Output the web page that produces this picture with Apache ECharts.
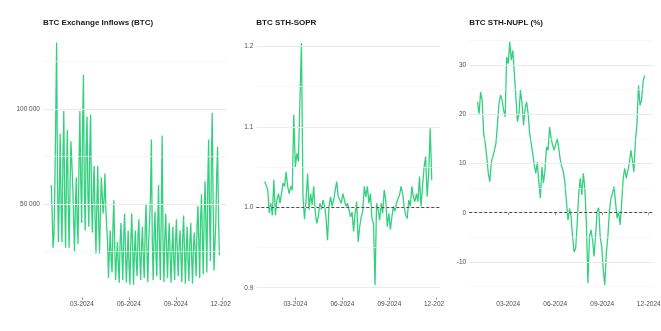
<!DOCTYPE html>
<html>
<head>
<meta charset="utf-8">
<script src="https://cdn.jsdelivr.net/npm/echarts@6/dist/echarts.min.js"></script>
<style>
  html, body { margin: 0; padding: 0; background: #ffffff; }
  .panel { position: absolute; top: 0; height: 331px; overflow: hidden; }
</style>
</head>
<body>
<div id="p1" class="panel" style="left:0;width:231px"></div>
<div id="p2" class="panel" style="left:231px;width:213px"></div>
<div id="p3" class="panel" style="left:444px;width:217px"></div>
<script>
// ---- data ----------------------------------------------------------------
const DAY = 86400000;
const seriesStart = '2024-01-01';

// x-axis ticks
const tickDates = ['2024-03-01', '2024-06-01', '2024-09-01', '2024-12-01'];
const tickLabels = ['03-2024', '06-2024', '09-2024', '12-2024'];

// BTC exchange inflows (BTC), sampled every 1.75 days
const inflowStepDays = 1.75;
const inflowValues = [
  60000, 45000, 27000, 33000, 58000, 95000, 135000, 62000, 30000, 55000,
  87000, 48000, 30000, 72000, 99000, 55000, 27000, 64000, 89000, 50000,
  27000, 58000, 83000, 72000, 60000, 42000, 25000, 48000, 64000, 40000,
  29000, 70000, 99000, 62000, 40000, 88000, 118000, 57000, 36000, 80000,
  96000, 54000, 38000, 78000, 97000, 52000, 35000, 58000, 70000, 43000,
  24000, 50000, 70000, 40000, 24000, 46000, 64000, 55000, 45000, 52000,
  66000, 48000, 38000, 30000, 11000, 25000, 36000, 20000, 14000, 38000,
  52000, 27000, 10000, 22000, 30000, 18000, 8500, 30000, 40000, 24000,
  10000, 32000, 45000, 26000, 8500, 22000, 36000, 17000, 7500, 30000,
  45000, 28000, 7500, 24000, 36000, 20000, 12000, 34000, 42000, 22000,
  10000, 28000, 38000, 21000, 11000, 36000, 50000, 25000, 9000, 30000,
  42000, 55000, 84000, 30000, 10000, 34000, 46000, 24000, 12000, 38000,
  60000, 28000, 10000, 44000, 86000, 30000, 9000, 32000, 45000, 26000,
  11000, 30000, 40000, 22000, 8500, 26000, 38000, 20000, 10000, 30000,
  42000, 24000, 12000, 28000, 36000, 22000, 9000, 32000, 44000, 25000,
  8000, 26000, 38000, 20000, 9500, 30000, 40000, 22000, 8000, 27000,
  35000, 24000, 12000, 38000, 49000, 30000, 11000, 42000, 55000, 33000,
  13000, 45000, 62000, 38000, 14000, 60000, 84000, 45000, 20000, 70000,
  98000, 52000, 15000, 28000, 40000, 65000, 80000, 45000, 23000
];

// BTC STH-SOPR, sampled every 3 days
const soprStepDays = 3;
const soprValues = [
  1.032, 1.030, 1.022, 0.993, 1.005, 0.990, 1.034, 0.990, 1.009, 1.017,
  1.005, 1.017, 1.030, 1.026, 1.044, 1.026, 1.017, 1.026, 1.021, 1.115,
  1.050, 1.067, 1.057, 1.055, 1.204, 1.013, 0.985, 1.009, 1.042, 0.997,
  1.017, 1.003, 1.026, 0.993, 0.980, 0.988, 1.005, 0.997, 1.009, 1.003,
  0.988, 0.959, 1.001, 1.013, 1.001, 1.009, 1.021, 1.032, 1.013, 1.009,
  1.005, 1.017, 1.009, 1.001, 1.005, 0.997, 0.988, 0.994,
  0.970, 0.9925, 1.007, 0.957, 0.976, 0.988, 0.995, 1.026, 1.013, 1.026,
  1.005, 1.017, 0.986, 0.980, 0.9035, 1.005, 0.997, 0.984, 1.005, 0.9925,
  1.0215, 1.009, 0.976, 0.9925, 0.972, 0.988, 1.001, 0.995, 1.005, 1.011,
  1.015, 1.026, 1.017, 1.001, 0.990, 0.986, 1.009, 1.001, 1.026, 1.013,
  1.007, 1.017, 1.007, 1.038, 1.001, 1.026, 1.050, 1.063, 1.013, 1.042,
  1.098, 1.034
];

// BTC STH-NUPL (%), sampled every 3 days
const nuplStepDays = 3;
const nuplValues = [
  22.5, 20.1, 24.5, 22.9, 16.0, 14.2, 11.4, 8.0, 6.3, 10.3,
  11.4, 11.7, 14.1, 18.0, 22.2, 23.9, 22.9, 20.8, 19.5, 31.6,
  30.3, 34.7, 31.0, 33.0, 28.3, 23.5, 18.5, 20.1, 24.9, 22.2,
  17.8, 21.2, 22.5, 20.1, 16.1, 14.1, 12.0, 9.7, 8.0, 10.3,
  6.0, 3.0, 9.3, 6.0, 8.7, 13.4, 12.7, 17.4, 15.1, 13.7,
  12.7, 12.4, 15.1, 13.0, 10.7, 9.3, 8.3,
  6.0, 2.2, -1.5, 0.9, -0.8, -4.9, -8.0, -7.2, -2.2, 3.9,
  7.0, 3.6, 8.0, 4.9, -2.2, -14.3, -4.9, -3.5, -5.5, -8.9,
  -4.5, 0.2, 1.0, -4.9, -6.9, -11.6, -14.7, -8.2, -4.9, 0.2,
  2.9, 3.9, 5.3, 2.2, -1.1, 0.2, -2.5, 1.9, 7.0, 9.0,
  7.0, 7.3, 10.0, 12.7, 10.7, 8.3, 14.7, 18.1, 25.9, 21.8,
  22.9, 26.6, 27.9
];

// y-axis ticks
const inflowTicks = [50000, 100000];
const inflowMinor = [25000, 75000, 125000];
const soprTicks = [0.9, 1.0, 1.1, 1.2];
const soprMinor = [0.95, 1.05, 1.15];
const nuplTicks = [-10, 0, 10, 20, 30];
const nuplMinor = [-15, -5, 5, 15, 25, 35];

// ---- drawing -------------------------------------------------------------
// The x axis is measured in days since seriesStart.
const FONT = '"Liberation Sans", Arial, sans-serif';
const LINE_COLOR = '#33d17f';
const startMs = Date.parse(seriesStart + 'T00:00:00Z');
const tickDays = tickDates.map(d => Math.round((Date.parse(d + 'T00:00:00Z') - startMs) / DAY));
const xMin = -16.35;
const xMax = 343.35;

function toPairs(values, step) {
  return values.map((v, i) => [i * step, v]);
}

function tickLabel(v) {
  const idx = tickDays.indexOf(Math.round(v));
  return idx >= 0 ? tickLabels[idx] : '';
}

function spaced(v) {
  return String(Math.round(v)).replace(/\B(?=(\d{3})+(?!\d))/g, ' ');
}

function drawPanel(el, cfg) {
  const chart = echarts.init(el, null, { renderer: 'canvas' });
  const pairs = toPairs(cfg.values, cfg.step);
  const gridLines = []
    .concat(cfg.ticks.map(v => ({ yAxis: v, lineStyle: { color: '#ebebeb', width: 1, type: 'solid' } })))
    .concat(cfg.minor.map(v => ({ yAxis: v, lineStyle: { color: '#f4f4f4', width: 0.6, type: 'solid' } })));

  const series = [
    {
      type: 'line', data: pairs, z: 1, silent: true, showSymbol: false, symbol: 'none',
      lineStyle: { opacity: 0 },
      markLine: { silent: true, symbol: ['none', 'none'], label: { show: false }, animation: false, data: gridLines }
    },
    {
      type: 'line', data: pairs, z: 3, showSymbol: false, symbol: 'none',
      lineStyle: { color: LINE_COLOR, width: 1.3 },
      emphasis: { disabled: true }
    }
  ];
  if (cfg.refLine !== undefined) {
    series.push({
      type: 'line', data: pairs, z: 4, silent: true, showSymbol: false, symbol: 'none',
      lineStyle: { opacity: 0 },
      markLine: {
        silent: true, symbol: ['none', 'none'], label: { show: false }, animation: false,
        data: [{ yAxis: cfg.refLine, lineStyle: { color: '#222222', width: 0.8, type: [3, 2] } }]
      }
    });
  }

  chart.setOption({
    animation: false,
    title: {
      text: cfg.title, left: cfg.left, top: 18.5, padding: 0,
      textStyle: { fontFamily: FONT, fontSize: 8, fontWeight: 'bold', color: '#1a1a1a' }
    },
    grid: { left: cfg.left, top: 29.6, width: 183.8, height: 267.8, containLabel: false, outerBoundsMode: 'none' },
    xAxis: {
      type: 'value', min: xMin, max: xMax,
      axisLine: { show: false },
      axisTick: { show: true, length: 2.5, customValues: tickDays, lineStyle: { color: '#555555', width: 0.6 } },
      axisLabel: { customValues: tickDays, formatter: tickLabel, fontFamily: FONT, fontSize: 6.5, color: '#4d4d4d', margin: 3.5, hideOverlap: false },
      splitLine: { show: false }
    },
    yAxis: {
      type: 'value', min: cfg.yMin, max: cfg.yMax,
      axisLine: { show: false }, axisTick: { show: false }, splitLine: { show: false },
      axisLabel: { customValues: cfg.ticks, formatter: cfg.fmt, fontFamily: FONT, fontSize: 6.5, color: '#4d4d4d', margin: 3 }
    },
    series: series
  });
}

drawPanel(document.getElementById('p1'), {
  title: 'BTC Exchange Inflows (BTC)', left: 42.9,
  values: inflowValues, step: inflowStepDays,
  yMin: 843, yMax: 141790, ticks: inflowTicks, minor: inflowMinor, fmt: spaced
});
drawPanel(document.getElementById('p2'), {
  title: 'BTC STH-SOPR', left: 25.3,
  values: soprValues, step: soprStepDays,
  yMin: 0.888, yMax: 1.2207, ticks: soprTicks, minor: soprMinor,
  fmt: v => v.toFixed(1), refLine: 1.0
});
drawPanel(document.getElementById('p3'), {
  title: 'BTC STH-NUPL (%)', left: 25.2,
  values: nuplValues, step: nuplStepDays,
  yMin: -17.2, yMax: 37.2, ticks: nuplTicks, minor: nuplMinor,
  fmt: v => String(v), refLine: 0
});
</script>
</body>
</html>
